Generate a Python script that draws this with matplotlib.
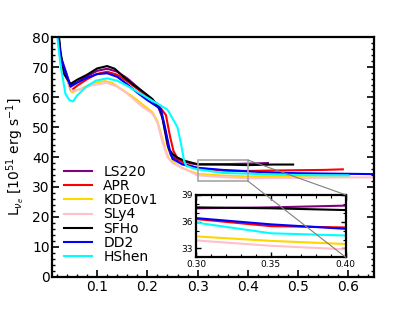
import numpy as np
import matplotlib
matplotlib.use("Agg")
import matplotlib.pyplot as plt
from matplotlib.patches import Rectangle, ConnectionPatch
from matplotlib.ticker import MultipleLocator

# Neutrino luminosity curves.
labels = ["LS220", "APR", "KDE0v1", "SLy4", "SFHo", "DD2", "HShen"]
colors = ["purple", "red", "gold", "pink", "black", "blue", "cyan"]

x_ls220 = [0.015, 0.027, 0.047, 0.06, 0.08, 0.10, 0.12, 0.14, 0.16, 0.18, 0.20, 0.22,
           0.23, 0.24, 0.247, 0.26, 0.287, 0.30, 0.35, 0.40, 0.44]
y_ls220 = [95, 74, 63.9, 65, 67, 68.8, 69.5, 68.5, 66.3, 63.4, 60.4, 57.5,
           53, 44, 40.5, 39, 37.9, 37.5, 37.6, 37.8, 38.0]

x_apr = [0.015, 0.027, 0.048, 0.06, 0.08, 0.10, 0.12, 0.14, 0.16, 0.18, 0.20, 0.22,
         0.237, 0.245, 0.252, 0.26, 0.275, 0.287, 0.30, 0.35, 0.40, 0.45, 0.50, 0.55, 0.589]
y_apr = [95, 73, 62.2, 63.8, 66, 67.8, 68.5, 67.5, 65.3, 62.8, 60.2, 57.8,
         54.0, 47, 42, 39.5, 37.6, 37.1, 36.3, 35.5, 35.35, 35.5, 35.6, 35.7, 35.9]

x_kde = [0.015, 0.027, 0.05, 0.07, 0.09, 0.115, 0.13, 0.15, 0.17, 0.187, 0.21, 0.22,
         0.23, 0.237, 0.243, 0.267, 0.30, 0.35, 0.40, 0.45, 0.50, 0.55, 0.602]
y_kde = [95, 72, 61.6, 63, 64.6, 65.4, 64.8, 62.5, 60.3, 58, 55, 52,
         46, 42, 39.4, 36.5, 34.35, 33.85, 33.5, 33.6, 33.7, 33.8, 33.8]

x_sly4 = [0.015, 0.027, 0.05, 0.07, 0.09, 0.12, 0.14, 0.16, 0.187, 0.21, 0.22,
          0.23, 0.24, 0.25, 0.30, 0.35, 0.40, 0.45, 0.50, 0.55, 0.60, 0.65]
y_sly4 = [95, 72.5, 62, 62.8, 64, 64.8, 63.5, 61.2, 57.2, 54.5, 51.5,
          45, 40, 38, 33.9, 33.3, 32.9, 33.0, 33.0, 33.1, 33.2, 33.2]

x_sfho = [0.015, 0.027, 0.034, 0.047, 0.06, 0.08, 0.10, 0.12, 0.135, 0.15, 0.17, 0.19,
          0.21, 0.227, 0.234, 0.243, 0.25, 0.26, 0.273, 0.30, 0.35, 0.40, 0.45, 0.49]
y_sfho = [95, 75.6, 67.8, 64.4, 65.8, 67.5, 69.6, 70.4, 69.5, 67.2, 64.4, 62,
          59.4, 55.5, 50, 42.7, 41, 39.8, 38.8, 37.6, 37.5, 37.3, 37.5, 37.5]

x_dd2 = [0.015, 0.027, 0.047, 0.06, 0.08, 0.10, 0.12, 0.14, 0.16, 0.18, 0.20, 0.227,
         0.235, 0.245, 0.25, 0.27, 0.30, 0.35, 0.40, 0.45, 0.50, 0.55, 0.60, 0.65]
y_dd2 = [95, 73.5, 63.5, 64.8, 66.5, 67.7, 68, 66.8, 64.3, 61.5, 59, 56,
         50, 42, 39.4, 37.5, 36.4, 35.7, 35.2, 34.8, 34.6, 34.5, 34.4, 34.3]

x_hshen = [0.013, 0.021, 0.027, 0.037, 0.045, 0.052, 0.06, 0.077, 0.097, 0.12, 0.14,
           0.16, 0.187, 0.21, 0.227, 0.24, 0.247, 0.26, 0.267, 0.273, 0.277, 0.29,
           0.30, 0.35, 0.40, 0.45, 0.50, 0.55, 0.60]
y_hshen = [95, 80, 71, 61.1, 59, 58.6, 60.5, 63.3, 65.5, 66.3, 65.5,
           63.8, 61.1, 58.8, 57.2, 55.8, 53.8, 49.9, 44.4, 38.8, 37.1, 36.3,
           35.9, 34.7, 34.45, 34.2, 34.0, 33.9, 33.9]

xs = [x_ls220, x_apr, x_kde, x_sly4, x_sfho, x_dd2, x_hshen]
ys = [y_ls220, y_apr, y_kde, y_sly4, y_sfho, y_dd2, y_hshen]

fig = plt.figure(figsize=(4.15, 3.11), dpi=100)
ax = fig.add_subplot(111)

for x, y, c, lab in zip(xs, ys, colors, labels):
    ax.plot(x, y, color=c, lw=1.5, label=lab)

ax.set_xlim(0.01, 0.65)
ax.set_ylim(0, 80)
ax.set_xticks([0.1, 0.2, 0.3, 0.4, 0.5, 0.6])
ax.xaxis.set_minor_locator(MultipleLocator(0.02))
ax.yaxis.set_minor_locator(MultipleLocator(2))
ax.tick_params(which="both", direction="in", right=True, top=False, labelsize=10)
ax.tick_params(which="major", length=5, width=1.2)
ax.tick_params(which="minor", length=2.5, width=1)
ax.tick_params(axis="y", pad=1.5)
ax.tick_params(axis="x", pad=2.5)
for s in ax.spines.values():
    s.set_linewidth(1.6)
ax.set_ylabel(r"L$_{\nu_e}$ [10$^{51}$ erg s$^{-1}$]", fontsize=10)

ax.legend(loc="lower left", frameon=False, fontsize=10, handlelength=2.0,
          labelspacing=0.02, handletextpad=0.8)

# zoomed inset
axins = ax.inset_axes([0.448, 0.081, 0.466, 0.261])
for x, y, c in zip(xs, ys, colors):
    axins.plot(x, y, color=c, lw=1.5)
axins.set_xlim(0.30, 0.40)
axins.set_ylim(32, 39)
axins.set_xticks([0.30, 0.35, 0.40])
axins.set_xticklabels(["0.30", "0.35", "0.40"])
axins.set_yticks([33, 36, 39])
axins.xaxis.set_minor_locator(MultipleLocator(0.01))
axins.yaxis.set_minor_locator(MultipleLocator(1))
axins.tick_params(which="both", direction="in", top=True, right=True, labelsize=6.5, pad=2)
axins.tick_params(which="major", length=3.5, width=1)
axins.tick_params(which="minor", length=2, width=0.8)
for s in axins.spines.values():
    s.set_linewidth(1.6)

ax.add_patch(Rectangle((0.30, 32), 0.10, 7, fill=False, ec="0.65", lw=1.2, zorder=5))
for yA, yB in [(39, 1), (32, 0)]:
    cp = ConnectionPatch(xyA=(0.40, yA), coordsA=ax.transData,
                         xyB=(1, yB), coordsB=axins.transAxes,
                         color="0.5", lw=0.8)
    fig.add_artist(cp)

fig.savefig("out.png", dpi=100)
